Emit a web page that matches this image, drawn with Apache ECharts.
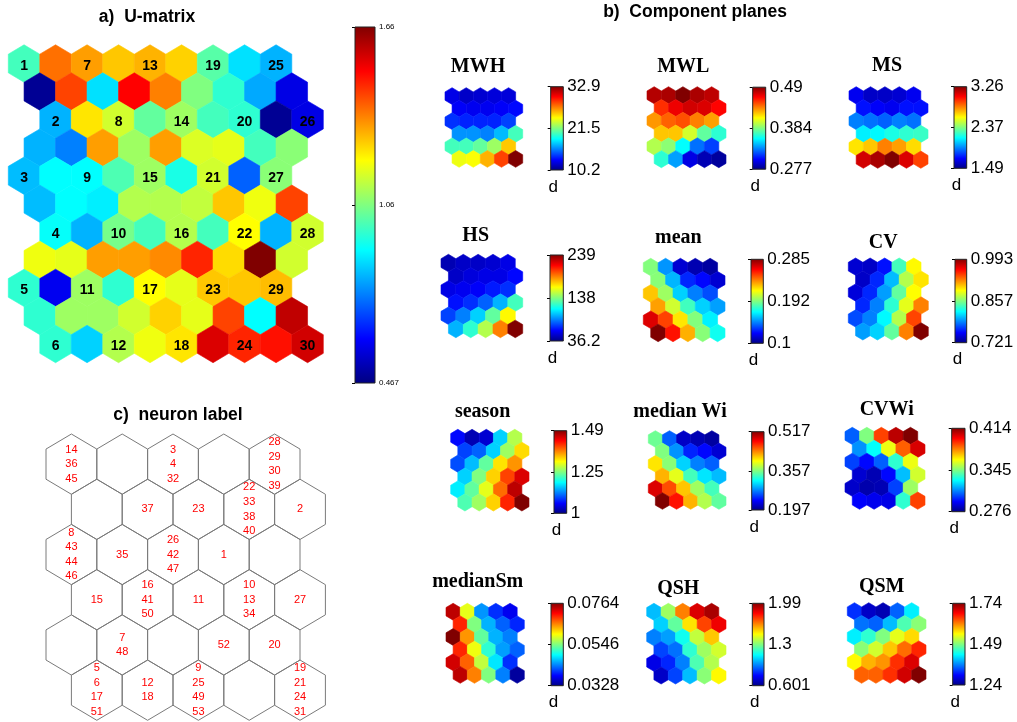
<!DOCTYPE html>
<html><head><meta charset="utf-8">
<script src="https://cdn.jsdelivr.net/npm/echarts@6/dist/echarts.min.js"></script>
<style>html,body{margin:0;padding:0;background:#fff}#main{width:1017px;height:722px}</style>
</head><body><div id="main"></div>
<script>
// ---------------- DATA ----------------
// U-matrix (11 rows x 9 cols)
const UMAT_TICKS = ['0.467', '1.06', '1.66'];
const UMAT = [
  [0.992,1.380,1.326,1.278,1.302,1.266,1.016,0.879,0.825],
  [0.491,1.433,0.879,1.511,1.362,1.064,0.968,0.813,0.586],
  [0.825,1.242,1.159,1.028,1.099,0.992,0.968,0.491,0.586],
  [0.825,0.765,1.326,1.099,1.326,1.171,1.183,0.992,1.075],
  [0.837,0.914,0.914,1.004,1.099,0.944,1.159,0.729,1.075],
  [0.837,0.914,0.896,1.123,1.123,1.141,1.278,1.195,1.433],
  [0.920,0.825,1.052,0.992,1.123,0.992,1.213,0.825,1.159],
  [1.195,1.183,1.326,1.326,1.350,1.469,1.254,1.660,1.159],
  [0.968,0.598,1.099,0.968,1.213,1.183,1.278,1.278,1.290],
  [0.968,1.099,1.099,1.159,1.266,1.183,1.433,0.914,1.585],
  [0.968,0.861,1.123,1.195,1.242,1.553,1.469,1.493,1.565]
];
const UMAT_NEURONS = [
  [1,7,13,19,25],
  [2,8,14,20,26],
  [3,9,15,21,27],
  [4,10,16,22,28],
  [5,11,17,23,29],
  [6,12,18,24,30]
];

// Component planes (6 rows x 5 cols)
const MWH_TICKS = ['10.2','21.5','32.9'];
const MWH = [
  [12.5,11.8,12.0,12.2,12.2],
  [12.9,12.7,12.7,12.9,13.2],
  [14.1,13.8,13.8,13.8,14.5],
  [16.3,16.3,15.9,17.2,20.2],
  [20.2,20.2,20.9,22.2,25.6],
  [24.0,24.3,26.1,28.6,32.9]
];
const MWL_TICKS = ['0.277','0.384','0.49'];
const MWL = [
  [0.479,0.481,0.490,0.481,0.477],
  [0.454,0.467,0.473,0.471,0.463],
  [0.432,0.443,0.447,0.437,0.430],
  [0.422,0.422,0.401,0.377,0.366],
  [0.394,0.386,0.357,0.327,0.317],
  [0.366,0.337,0.298,0.288,0.283]
];
const MS_TICKS = ['1.49','2.37','3.26'];
const MS = [
  [1.685,1.614,1.614,1.632,1.685],
  [1.738,1.702,1.685,1.738,1.738],
  [1.933,1.906,1.879,1.933,1.906],
  [2.127,2.145,2.198,2.233,2.251],
  [2.641,2.694,2.818,2.764,2.658],
  [3.118,3.189,3.260,3.101,2.924]
];
const HS_TICKS = ['36.2','138','239'];
const HS = [
  [46.3,50.4,50.4,52.4,56.5],
  [50.4,54.5,56.5,56.5,62.6],
  [56.5,58.5,60.5,66.6,70.7],
  [64.6,70.7,80.8,97.0,125.4],
  [74.7,86.9,103.1,131.5,164.0],
  [97.0,121.4,147.7,188.3,239.0]
];
const MEAN_TICKS = ['0.1','0.192','0.285'];
const MEAN = [
  [0.193,0.150,0.115,0.109,0.106],
  [0.194,0.156,0.130,0.124,0.115],
  [0.226,0.198,0.161,0.146,0.137],
  [0.233,0.207,0.181,0.161,0.152],
  [0.268,0.250,0.220,0.193,0.167],
  [0.285,0.259,0.230,0.194,0.172]
];
const CV_TICKS = ['0.721','0.857','0.993'];
const CV = [
  [0.743,0.740,0.759,0.841,0.892],
  [0.740,0.765,0.805,0.871,0.898],
  [0.745,0.765,0.797,0.849,0.891],
  [0.765,0.789,0.835,0.884,0.925],
  [0.775,0.789,0.822,0.871,0.941],
  [0.797,0.811,0.849,0.925,0.993]
];
const SEASON_TICKS = ['1','1.25','1.49'];
const SEASON = [
  [1.064,1.025,1.039,1.162,1.270],
  [1.093,1.108,1.162,1.260,1.323],
  [1.098,1.152,1.230,1.319,1.358],
  [1.162,1.245,1.328,1.397,1.446],
  [1.176,1.230,1.294,1.377,1.461],
  [1.221,1.260,1.328,1.412,1.490]
];
const MEDIANWI_TICKS = ['0.197','0.357','0.517'];
const MEDIANWI = [
  [0.351,0.267,0.219,0.213,0.207],
  [0.357,0.283,0.248,0.239,0.223],
  [0.405,0.360,0.303,0.277,0.267],
  [0.421,0.389,0.338,0.309,0.296],
  [0.488,0.453,0.415,0.367,0.338],
  [0.517,0.472,0.421,0.373,0.347]
];
const CVWI_TICKS = ['0.276','0.345','0.414'];
const CVWI = [
  [0.306,0.345,0.388,0.406,0.414],
  [0.313,0.328,0.360,0.384,0.402],
  [0.302,0.294,0.306,0.334,0.360],
  [0.287,0.283,0.294,0.319,0.356],
  [0.286,0.282,0.283,0.302,0.349],
  [0.293,0.291,0.290,0.334,0.388]
];
const MEDIANSM_TICKS = ['0.0328','0.0546','0.0764'];
const MEDIANSM = [
  [0.0738,0.0590,0.0446,0.0402,0.0376],
  [0.0694,0.0546,0.0459,0.0424,0.0398],
  [0.0764,0.0646,0.0533,0.0459,0.0437],
  [0.0694,0.0594,0.0511,0.0450,0.0424],
  [0.0729,0.0668,0.0574,0.0481,0.0402],
  [0.0738,0.0655,0.0546,0.0437,0.0341]
];
const QSH_TICKS = ['0.601','1.3','1.99'];
const QSH = [
  [1.032,1.337,1.643,1.865,1.934],
  [1.059,1.254,1.504,1.726,1.837],
  [0.948,0.990,1.143,1.386,1.546],
  [0.865,0.927,1.184,1.337,1.407],
  [0.740,0.823,0.948,1.226,1.365],
  [0.698,0.865,1.032,1.309,1.476]
];
const QSM_TICKS = ['1.24','1.49','1.74'];
const QSM = [
  [1.325,1.275,1.265,1.350,1.420],
  [1.358,1.350,1.395,1.465,1.495],
  [1.420,1.450,1.490,1.540,1.570],
  [1.495,1.530,1.580,1.625,1.660],
  [1.555,1.590,1.605,1.655,1.695],
  [1.630,1.630,1.655,1.700,1.740]
];
const PLANE_NAMES = ['MWH','MWL','MS','HS','mean','CV','season','median Wi','CVWi','medianSm','QSH','QSM'];

// Neuron label map: data samples hitting each neuron (6 rows x 5 cols)
const NEURON_HITS = [
  ['14\n36\n45', '', '3\n4\n32', '', '28\n29\n30\n39'],
  ['', '37', '23', '22\n33\n38\n40', '2'],
  ['8\n43\n44\n46', '35', '26\n42\n47', '1', ''],
  ['15', '16\n41\n50', '11', '10\n13\n34', '27'],
  ['', '7\n48', '', '52', '20'],
  ['5\n6\n17\n51', '12\n18', '9\n25\n49\n53', '', '19\n21\n24\n31']
];

// ---------------- LAYOUT / STYLE ----------------
const JET = ['#000080','#0000ff','#0080ff','#00ffff','#80ff80','#ffff00','#ff8000','#ff0000','#800000'];
const SANS = '"Liberation Sans", Arial, Helvetica, sans-serif';
const SERIF = '"Liberation Serif", "Times New Roman", serif';
const PLANE_DATA = [MWH, MWL, MS, HS, MEAN, CV, SEASON, MEDIANWI, CVWI, MEDIANSM, QSH, QSM];
const PLANE_TICKS = [MWH_TICKS, MWL_TICKS, MS_TICKS, HS_TICKS, MEAN_TICKS, CV_TICKS, SEASON_TICKS, MEDIANWI_TICKS, CVWI_TICKS, MEDIANSM_TICKS, QSH_TICKS, QSM_TICKS];
// [left, top, width, height] of hex area, colour bar, and title centre
const PLANE_BOX = [
  {hex:[445,87.7,77.7,79.6],  bar:[550.7,86.7,12.6,83.3], title:[478,66.7]},
  {hex:[647,86.7,79,81],      bar:[752.7,87.2,13,82],     title:[683.3,66.7]},
  {hex:[849,86.7,79,81.6],    bar:[954,86.7,12.7,81.6],   title:[887,66]},
  {hex:[441,254.3,81.7,83.4], bar:[550,255,13.3,86],      title:[475.7,235.7]},
  {hex:[643.3,258.3,81.7,83.4],bar:[751,259.3,12.3,84],   title:[678.3,238.3]},
  {hex:[848.3,258,80,82],     bar:[955,259.3,11.7,83.4],  title:[883.3,243.3]},
  {hex:[450.7,429.3,78.3,81.7],bar:[554,430.7,12.7,82.6], title:[482.7,411.7]},
  {hex:[648.3,430.7,77.7,78.6],bar:[751.7,431.7,12.3,78.3],title:[680,411.7]},
  {hex:[845,427.3,80,82],     bar:[951.7,428.3,13.3,83.4],title:[886.7,410]},
  {hex:[446,603.3,78.3,80],   bar:[551,603.3,12.3,82.4],  title:[477.7,581.7]},
  {hex:[646.7,603.3,79.3,80.7],bar:[752.3,603.3,11.7,82.4],title:[678.3,589]},
  {hex:[847.3,602.7,78.7,80.6],bar:[952.7,603.3,12.3,81.7],title:[881.7,586.7]}
];
const UOFF = [0,0.5,1,0.5,0,0.5,1,0.5,0,0.5,1];
const HEX = [[0,-2/3],[0.5,-1/3],[0.5,1/3],[0,2/3],[-0.5,1/3],[-0.5,-1/3]];

function toCells(mat){ const out=[]; mat.forEach((row,r)=>row.forEach((v,c)=>out.push([c,r,v]))); return out; }
function hexPts(api,cx,cy){ return HEX.map(d=>api.coord([cx+d[0],cy+d[1]])); }

function hexRender(offFn){
  return function(params, api){
    const c=api.value(0), r=api.value(1);
    const color=api.visual('color');
    return {type:'polygon', shape:{points:hexPts(api,c+offFn(r),r)},
      style:{fill:color, stroke:color, lineWidth:0.6}};
  };
}
function barRender(params, api){
  const p0=api.coord([0,0]), p1=api.coord([1,2]);
  return {type:'rect', shape:{x:p0[0], y:p1[1], width:p1[0]-p0[0], height:p0[1]-p1[1]},
    style:{fill:{type:'linear',x:0,y:1,x2:0,y2:0,
      colorStops:JET.map((c,i)=>({offset:i/(JET.length-1), color:c}))},
      stroke:'#222', lineWidth:1}};
}

const grids=[], xAxes=[], yAxes=[], series=[], visualMaps=[], graphics=[];
function addGrid(box){ grids.push({left:box[0], top:box[1], width:box[2], height:box[3], show:false}); return grids.length-1; }
function hexAxes(g, xmax, ymax){
  xAxes.push({type:'value', gridIndex:g, min:-0.5, max:xmax, show:false});
  yAxes.push({type:'value', gridIndex:g, min:-2/3, max:ymax+2/3, inverse:true, show:false});
}
function barAxes(g, ticks, fs, margin){
  xAxes.push({type:'value', gridIndex:g, min:0, max:1, show:false});
  yAxes.push({type:'value', gridIndex:g, min:0, max:2, interval:1, position:'right',
    axisLine:{show:false}, splitLine:{show:false},
    axisTick:{show:true, inside:true, length:3, lineStyle:{color:'#000', width:1}},
    axisLabel:{show:true, showMinLabel:true, showMaxLabel:true, fontSize:fs, fontFamily:SANS, color:'#000', margin:margin,
      formatter:v=>ticks[Math.round(v)]}});
}
function txt(x,y,text,font,color){
  return {type:'text', x:x, y:y, silent:true,
    style:{text:text, font:font, fill:color||'#000', align:'center', verticalAlign:'middle',
      textAlign:'center', textVerticalAlign:'middle'}};
}

// U-matrix
let g = addGrid([8.3,44.8,315,317.9]);
hexAxes(g, 9.5, 10);
series.push({type:'custom', xAxisIndex:g, yAxisIndex:g, data:toCells(UMAT), encode:{x:0,y:1},
  renderItem:hexRender(r=>UOFF[r]), silent:true});
visualMaps.push({type:'continuous', show:false, dimension:2, seriesIndex:0,
  min:parseFloat(UMAT_TICKS[0]), max:parseFloat(UMAT_TICKS[2]), inRange:{color:JET}});
const uLabels=[];
UMAT_NEURONS.forEach((row,r)=>row.forEach((id,c)=>uLabels.push([2*c,2*r,id])));
series.push({type:'custom', xAxisIndex:g, yAxisIndex:g, data:uLabels, encode:{x:0,y:1}, silent:true,
  renderItem:function(params, api){
    const c=api.value(0), r=api.value(1);
    const p=api.coord([c+UOFF[r], r+0.08]);
    return {type:'text', x:p[0], y:p[1], style:{text:String(api.value(2)), font:'bold 14px '+SANS, fill:'#000',
      align:'center', verticalAlign:'middle', textAlign:'center', textVerticalAlign:'middle'}};
  }});
g = addGrid([355,27,20,356]);
barAxes(g, UMAT_TICKS, 8, 4);
series.push({type:'custom', xAxisIndex:g, yAxisIndex:g, data:[[0,0]], renderItem:barRender, silent:true});

// Component planes
PLANE_DATA.forEach((mat,i)=>{
  const gh = addGrid(PLANE_BOX[i].hex);
  hexAxes(gh, 5, 5);
  const si = series.length;
  series.push({type:'custom', xAxisIndex:gh, yAxisIndex:gh, data:toCells(mat), encode:{x:0,y:1},
    renderItem:hexRender(r=>(r%2?0.5:0)), silent:true});
  visualMaps.push({type:'continuous', show:false, dimension:2, seriesIndex:si,
    min:parseFloat(PLANE_TICKS[i][0]), max:parseFloat(PLANE_TICKS[i][2]), inRange:{color:JET}});
  const gb = addGrid(PLANE_BOX[i].bar);
  barAxes(gb, PLANE_TICKS[i], 17, 4);
  series.push({type:'custom', xAxisIndex:gb, yAxisIndex:gb, data:[[0,0]], renderItem:barRender, silent:true});
  const t = PLANE_BOX[i].title, b = PLANE_BOX[i].bar;
  graphics.push(txt(t[0], t[1], PLANE_NAMES[i], 'bold 20px '+SERIF));
  graphics.push(txt(b[0]+2.5, b[1]+b[3]+17, 'd', '17px '+SANS));
});

// Neuron label map
g = addGrid([46,434,279.4,286.3]);
hexAxes(g, 5, 5);
const nCells=[];
NEURON_HITS.forEach((row,r)=>row.forEach((s,c)=>nCells.push([c,r])));
series.push({type:'custom', xAxisIndex:g, yAxisIndex:g, data:nCells, encode:{x:0,y:1}, silent:true,
  renderItem:function(params, api){
    const c=api.value(0), r=api.value(1);
    const cx=c+(r%2?0.5:0);
    const p=api.coord([cx,r]);
    return {type:'group', children:[
      {type:'polygon', shape:{points:hexPts(api,cx,r)}, style:{fill:'none', stroke:'#7a7a7a', lineWidth:1}},
      {type:'text', x:p[0], y:p[1], style:{text:NEURON_HITS[r][c], font:'11px '+SANS, fill:'#ff0000',
        lineHeight:14.6, align:'center', verticalAlign:'middle', textAlign:'center', textVerticalAlign:'middle'}}
    ]};
  }});

// Titles
graphics.push(txt(147,17,'a)  U-matrix','bold 17.5px '+SANS));
graphics.push(txt(695,12,'b)  Component planes','bold 17.5px '+SANS));
graphics.push(txt(178,415,'c)  neuron label','bold 17.5px '+SANS));

const chart = echarts.init(document.getElementById('main'), null, {renderer:'canvas'});
chart.setOption({
  animation:false,
  backgroundColor:'#fff',
  grid:grids, xAxis:xAxes, yAxis:yAxes,
  visualMap:visualMaps,
  series:series,
  graphic:{elements:graphics}
});
</script>
</body></html>
